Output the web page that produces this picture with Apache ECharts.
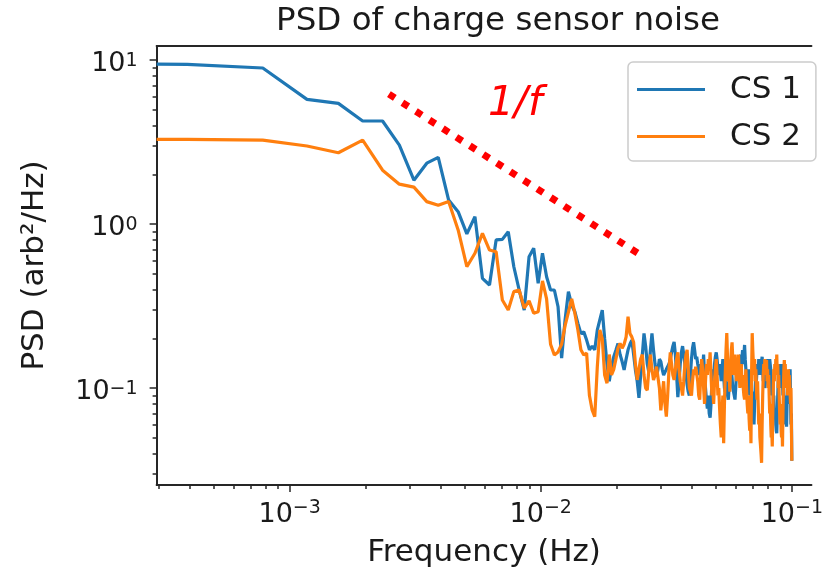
<!DOCTYPE html>
<html><head><meta charset="utf-8">
<script src="https://cdn.jsdelivr.net/npm/echarts@6/dist/echarts.min.js"></script>
<style>html,body{margin:0;padding:0;background:#fff}#chart{width:826px;height:577px}</style>
</head><body><div id="chart"></div>
<script>
// Frequencies (Hz). First entry is the DC bin, drawn at the left edge (log axis clips f = 0).
const freqHz = [0.0002951,
0.0003906,0.0007813,0.001172,0.001563,0.001953,0.002344,0.002734,0.003125,0.003516,0.003906,
0.004297,0.004688,0.005078,0.005469,0.005859,0.00625,0.006641,0.007031,0.007422,0.007813,
0.008203,0.008594,0.008984,0.009375,0.009766,0.01016,0.01055,0.01094,0.01133,0.01172,
0.01211,0.0125,0.01289,0.01328,0.01367,0.01406,0.01445,0.01484,0.01523,0.01563,
0.01602,0.01641,0.0168,0.01719,0.01758,0.01797,0.01836,0.01875,0.01914,0.01953,
0.01992,0.02031,0.0207,0.02109,0.02148,0.02188,0.02227,0.02266,0.02305,0.02344,
0.02383,0.02422,0.02461,0.025,0.02539,0.02578,0.02617,0.02656,0.02695,0.02734,
0.02773,0.02813,0.02852,0.02891,0.0293,0.02969,0.03008,0.03047,0.03086,0.03125,
0.03164,0.03203,0.03242,0.03281,0.0332,0.03359,0.03398,0.03438,0.03477,0.03516,
0.03555,0.03594,0.03633,0.03672,0.03711,0.0375,0.03789,0.03828,0.03867,0.03906,
0.03945,0.03984,0.04023,0.04063,0.04102,0.04141,0.0418,0.04219,0.04258,0.04297,
0.04336,0.04375,0.04414,0.04453,0.04492,0.04531,0.0457,0.04609,0.04648,0.04688,
0.04727,0.04766,0.04805,0.04844,0.04883,0.04922,0.04961,0.05,0.05039,0.05078,
0.05117,0.05156,0.05195,0.05234,0.05273,0.05313,0.05352,0.05391,0.0543,0.05469,
0.05508,0.05547,0.05586,0.05625,0.05664,0.05703,0.05742,0.05781,0.0582,0.05859,
0.05898,0.05938,0.05977,0.06016,0.06055,0.06094,0.06133,0.06172,0.06211,0.0625,
0.06289,0.06328,0.06367,0.06406,0.06445,0.06484,0.06523,0.06563,0.06602,0.06641,
0.0668,0.06719,0.06758,0.06797,0.06836,0.06875,0.06914,0.06953,0.06992,0.07031,
0.0707,0.07109,0.07148,0.07188,0.07227,0.07266,0.07305,0.07344,0.07383,0.07422,
0.07461,0.075,0.07539,0.07578,0.07617,0.07656,0.07695,0.07734,0.07773,0.07813,
0.07852,0.07891,0.0793,0.07969,0.08008,0.08047,0.08086,0.08125,0.08164,0.08203,
0.08242,0.08281,0.0832,0.08359,0.08398,0.08438,0.08477,0.08516,0.08555,0.08594,
0.08633,0.08672,0.08711,0.0875,0.08789,0.08828,0.08867,0.08906,0.08945,0.08984,
0.09023,0.09063,0.09102,0.09141,0.0918,0.09219,0.09258,0.09297,0.09336,0.09375,
0.09414,0.09453,0.09492,0.09531,0.0957,0.09609,0.09648,0.09688,0.09727,0.09766,
0.09805,0.09844,0.09883,0.09922,0.09961,0.1];

const cs1Psd = [9.45,
9.4,8.94,5.76,5.44,4.25,4.25,3.03,1.85,2.35,2.55,
1.40,1.19,0.87,1.11,0.466,0.425,0.80,0.806,0.898,0.549,
0.396,0.299,0.632,0.711,0.435,0.663,0.477,0.396,0.396,0.313,
0.152,0.26,0.387,0.321,0.292,0.248,0.215,0.22,0.196,0.171,
0.18,0.171,0.226,0.26,0.299,0.2,0.14,0.11,0.135,0.155,
0.17,0.187,0.16,0.145,0.129,0.15,0.171,0.185,0.196,0.16,
0.129,0.11,0.087,0.12,0.16,0.215,0.18,0.14,0.125,0.17,
0.215,0.17,0.14,0.118,0.13,0.15,0.145,0.13,0.12,0.125,
0.13,0.129,0.14,0.15,0.165,0.18,0.191,0.16,0.12,0.088,
0.11,0.14,0.165,0.18,0.16,0.14,0.12,0.105,0.095,0.09,
0.12,0.15,0.175,0.19,0.17,0.15,0.155,0.14,0.13,0.12,
0.14,0.11,0.13,0.16,0.12,0.1,0.085,0.075,0.09,0.07,
0.066,0.08,0.11,0.13,0.12,0.14,0.155,0.165,0.15,0.13,
0.12,0.14,0.125,0.11,0.13,0.15,0.12,0.1,0.095,0.11,
0.1,0.09,0.085,0.1,0.12,0.14,0.13,0.115,0.1,0.095,
0.09,0.085,0.1,0.12,0.14,0.13,0.15,0.12,0.14,0.16,
0.13,0.15,0.17,0.14,0.16,0.183,0.15,0.13,0.11,0.12,
0.1,0.13,0.11,0.09,0.12,0.1,0.08,0.095,0.07,0.065,
0.06,0.08,0.1,0.12,0.11,0.13,0.14,0.12,0.15,0.13,
0.14,0.12,0.15,0.145,0.155,0.13,0.11,0.14,0.12,0.1,
0.11,0.13,0.14,0.12,0.15,0.13,0.14,0.12,0.15,0.148,
0.13,0.11,0.09,0.1,0.12,0.08,0.09,0.07,0.065,0.075,
0.06,0.055,0.053,0.07,0.09,0.11,0.13,0.12,0.14,0.11,
0.13,0.1,0.12,0.14,0.11,0.09,0.1,0.08,0.07,0.09,
0.065,0.06,0.07,0.058,0.08,0.1,0.12,0.09,0.11,0.08,
0.1,0.13,0.09,0.06,0.07,0.036];

const cs2Psd = [3.28,
3.28,3.25,2.99,2.72,3.25,2.13,1.75,1.68,1.37,1.30,
1.37,0.92,0.549,0.663,0.877,0.694,0.678,0.344,0.299,0.387,
0.396,0.307,0.34,0.286,0.292,0.45,0.35,0.185,0.159,0.166,
0.185,0.24,0.29,0.35,0.286,0.226,0.171,0.159,0.163,0.09,
0.0735,0.0668,0.135,0.226,0.2,0.12,0.107,0.16,0.12,0.13,
0.15,0.175,0.187,0.175,0.185,0.205,0.272,0.215,0.205,0.19,
0.14,0.112,0.13,0.15,0.16,0.12,0.1,0.097,0.13,0.16,
0.13,0.112,0.12,0.135,0.138,0.1,0.073,0.09,0.11,0.08,
0.067,0.09,0.13,0.165,0.14,0.12,0.112,0.13,0.15,0.165,
0.13,0.11,0.1,0.09,0.11,0.14,0.16,0.171,0.13,0.1,
0.095,0.09,0.11,0.13,0.12,0.135,0.138,0.11,0.09,0.085,
0.12,0.15,0.13,0.1,0.08,0.11,0.14,0.12,0.15,0.13,
0.165,0.12,0.09,0.1,0.08,0.11,0.13,0.15,0.12,0.09,
0.1,0.075,0.06,0.05,0.07,0.09,0.046,0.08,0.12,0.17,
0.216,0.15,0.11,0.13,0.095,0.14,0.17,0.19,0.15,0.12,
0.14,0.16,0.13,0.11,0.15,0.13,0.16,0.12,0.1,0.13,
0.14,0.11,0.12,0.1,0.09,0.085,0.11,0.13,0.1,0.08,
0.07,0.09,0.065,0.055,0.07,0.046,0.12,0.216,0.17,0.14,
0.12,0.15,0.11,0.13,0.1,0.085,0.11,0.08,0.06,0.07,
0.05,0.045,0.04,0.035,0.06,0.09,0.12,0.14,0.13,0.15,
0.12,0.14,0.148,0.11,0.13,0.1,0.12,0.09,0.07,0.08,
0.06,0.05,0.055,0.044,0.07,0.1,0.13,0.11,0.14,0.12,
0.15,0.13,0.16,0.12,0.14,0.1,0.12,0.09,0.07,0.06,
0.08,0.055,0.05,0.06,0.044,0.07,0.1,0.13,0.148,0.12,
0.14,0.11,0.13,0.1,0.12,0.09,0.11,0.13,0.1,0.12,
0.11,0.112,0.08,0.1,0.06,0.036];

const seriesNames = ['CS 1', 'CS 2'];
// 1/f guide line (annotation), endpoints in data units
const guideFreqHz = [0.002485, 0.02429];
const guidePsd = [6.20, 0.666];
const guideLabel = '1/f';

const xLimHz = [0.0002951, 0.1197];
const yLimPsd = [0.02562, 12.18];
const xMajorTicks = [0.001, 0.01, 0.1];
const xMinorTicks = [0.0003,0.0004,0.0005,0.0006,0.0007,0.0008,0.0009,
  0.002,0.003,0.004,0.005,0.006,0.007,0.008,0.009,
  0.02,0.03,0.04,0.05,0.06,0.07,0.08,0.09];
const yMajorTicks = [0.1, 1, 10];
const yMinorTicks = [0.03,0.04,0.05,0.06,0.07,0.08,0.09,
  0.2,0.3,0.4,0.5,0.6,0.7,0.8,0.9,
  2,3,4,5,6,7,8,9];

const titleText = 'PSD of charge sensor noise';
const xName = 'Frequency (Hz)';
const yName = 'PSD (arb\u00B2/Hz)';

const L = Math.log10;
const FONT = '"DejaVu Sans", sans-serif';
const INK = '#1a1a1a';

function powLabel(v) {
  const e = Math.round(v);
  const s = e < 0 ? '\u2212' + (-e) : String(e);
  return '{b|10}{s|' + s + '}';
}
const richX = {
  b: { fontSize: 27, lineHeight: 32, color: INK, fontFamily: FONT },
  s: { fontSize: 19, lineHeight: 19, verticalAlign: 'top', color: INK, fontFamily: FONT }
};
const richY = {
  b: { fontSize: 27, lineHeight: 32, padding: [8, 0, 0, 0], color: INK, fontFamily: FONT },
  s: { fontSize: 19, lineHeight: 19, padding: [8, 0, 0, 0], verticalAlign: 'top', color: INK, fontFamily: FONT }
};

const axisLineStyle = { color: '#262626', width: 2 };
const tickStyle = { color: '#262626', width: 1.5 };

const xBase = { type: 'value', min: L(xLimHz[0]), max: L(xLimHz[1]), splitLine: { show: false } };
const yBase = { type: 'value', min: L(yLimPsd[0]), max: L(yLimPsd[1]), splitLine: { show: false } };

const chart = echarts.init(document.getElementById('chart'), null, { renderer: 'canvas' });
chart.setOption({
  animation: false,
  backgroundColor: '#ffffff',
  textStyle: { fontFamily: FONT },
  title: {
    text: titleText, left: 493, top: 0, textAlign: 'center',
    textStyle: { fontSize: 32.5, fontWeight: 'normal', color: INK, fontFamily: FONT }
  },
  grid: { left: 156.6, top: 46, width: 666.4, height: 439, containLabel: false },
  legend: {
    data: seriesNames, orient: 'vertical', left: 628, top: 62,
    icon: 'rect', itemWidth: 68, itemHeight: 3, itemGap: 16,
    padding: [12, 15, 9, 9],
    borderColor: '#cccccc', borderWidth: 1.5, borderRadius: 5,
    backgroundColor: 'rgba(255,255,255,0.8)',
    textStyle: { fontSize: 31, lineHeight: 31, color: INK, fontFamily: FONT, padding: [0, 0, 0, 20] }
  },
  xAxis: [
    Object.assign({}, xBase, {
      position: 'bottom',
      name: xName, nameLocation: 'middle', nameGap: 52,
      nameTextStyle: { fontSize: 31, color: INK, fontFamily: FONT },
      axisLine: { show: true, onZero: false, lineStyle: axisLineStyle },
      axisTick: { show: true, length: 7, lineStyle: tickStyle, customValues: xMajorTicks.map(L) },
      axisLabel: { show: true, margin: 14, formatter: powLabel, rich: richX, customValues: xMajorTicks.map(L) }
    }),
    Object.assign({}, xBase, {
      position: 'bottom',
      axisLine: { show: false, onZero: false },
      axisTick: { show: true, length: 4, lineStyle: tickStyle, customValues: xMinorTicks.map(L) },
      axisLabel: { show: false, customValues: xMinorTicks.map(L) }
    }),
    Object.assign({}, xBase, {
      position: 'top',
      axisLine: { show: true, onZero: false, lineStyle: axisLineStyle },
      axisTick: { show: false }, axisLabel: { show: false }
    })
  ],
  yAxis: [
    Object.assign({}, yBase, {
      position: 'left',
      name: yName, nameLocation: 'middle', nameGap: 106, nameRotate: 90,
      nameTextStyle: { fontSize: 31, color: INK, fontFamily: FONT },
      axisLine: { show: true, onZero: false, lineStyle: axisLineStyle },
      axisTick: { show: true, length: 7, lineStyle: tickStyle, customValues: yMajorTicks.map(L) },
      axisLabel: { show: true, margin: 19, formatter: powLabel, rich: richY, customValues: yMajorTicks.map(L) }
    }),
    Object.assign({}, yBase, {
      position: 'left',
      axisLine: { show: false, onZero: false },
      axisTick: { show: true, length: 4, lineStyle: tickStyle, customValues: yMinorTicks.map(L) },
      axisLabel: { show: false, customValues: yMinorTicks.map(L) }
    })
  ],
  series: [
    {
      name: seriesNames[0], type: 'line', xAxisIndex: 0, yAxisIndex: 0,
      data: freqHz.map((f, i) => [L(f), L(cs1Psd[i])]),
      symbol: 'none', showSymbol: false, clip: true,
      itemStyle: { color: '#1f77b4' },
      lineStyle: { color: '#1f77b4', width: 3.2 }
    },
    {
      name: seriesNames[1], type: 'line', xAxisIndex: 0, yAxisIndex: 0,
      data: freqHz.map((f, i) => [L(f), L(cs2Psd[i])]),
      symbol: 'none', showSymbol: false, clip: true,
      itemStyle: { color: '#ff7f0e' },
      lineStyle: { color: '#ff7f0e', width: 3.2 }
    },
    {
      name: 'guide', type: 'line', xAxisIndex: 0, yAxisIndex: 0,
      data: guideFreqHz.map((f, i) => [L(f), L(guidePsd[i])]),
      symbol: 'none', showSymbol: false, silent: true,
      lineStyle: { color: '#ff0000', width: 7, type: [7, 9], cap: 'butt' }
    }
  ],
  graphic: [{
    type: 'text', left: 488, top: 84, silent: true,
    style: { text: guideLabel, fill: '#ff0000', font: 'italic 41px "DejaVu Sans", sans-serif' }
  }]
});
</script></body></html>
